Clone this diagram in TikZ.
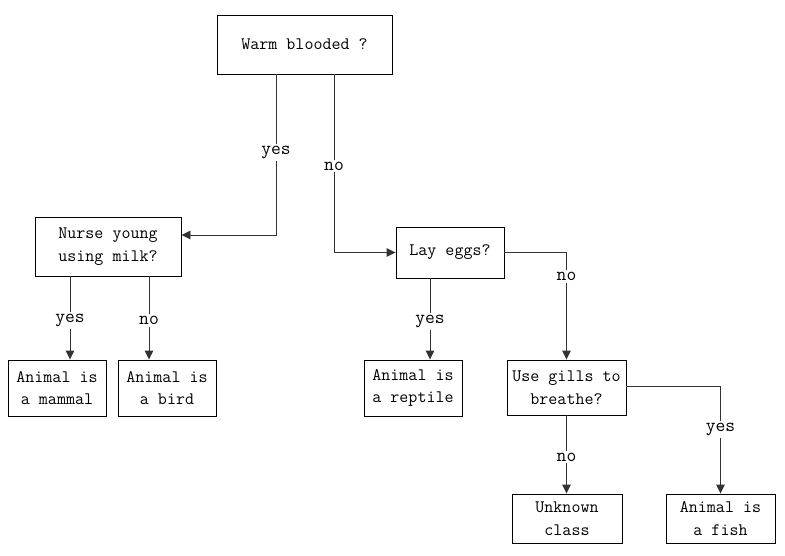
\documentclass[tikz,border=0pt]{standalone}
\usepackage{xcolor}
\usetikzlibrary{arrows.meta}

\begin{document}
\begin{tikzpicture}[x=1pt,y=-1pt,
    box/.style={draw, line width=0.9pt, align=center, inner sep=0pt,
        font=\ttfamily\fontsize{17.5}{22.5}\selectfont},
    arr/.style={draw=black!80, line width=0.9pt, -{Triangle[length=9pt,width=8.5pt]}},
    lbl/.style={fill=white, inner sep=2pt, yshift=-2.5pt, font=\ttfamily\fontsize{19}{20}\selectfont}]
    \useasboundingbox (0,0) rectangle (785,556);
    \node[box, minimum width=175pt, minimum height=59pt] (warm) at (304.5,44.5) {Warm blooded ?};
    \node[box, minimum width=146pt, minimum height=59pt] (nurse) at (108,246.5) {Nurse young\\using milk?};
    \node[box, minimum width=98pt, minimum height=56pt] (mammal) at (57,388) {Animal is\\a mammal};
    \node[box, minimum width=98pt, minimum height=56pt] (bird) at (167,388) {Animal is\\a bird};
    \node[box, minimum width=108pt, minimum height=51pt] (lay) at (450,252.5) {Lay eggs?};
    \node[box, minimum width=98pt, minimum height=56pt] (reptile) at (413,388) {Animal is\\a reptile};
    \node[box, minimum width=119pt, minimum height=55pt] (gills) at (566.5,387.5) {Use gills to\\breathe?};
    \node[box, minimum width=110pt, minimum height=49pt] (unknown) at (567,518.5) {Unknown\\class};
    \node[box, minimum width=109pt, minimum height=49pt] (fish) at (720.5,518.5) {Animal is\\a fish};

    \draw[arr] ([xshift=-28.5pt]warm.south) |- node[lbl, pos=0.235] {yes} ([yshift=11.5pt]nurse.east);
    \draw[arr] ([xshift=29.5pt]warm.south) |- node[lbl, pos=0.25] {no} (lay.west);
    \draw[arr] ([xshift=-38pt]nurse.south) -- node[lbl] {yes} ([xshift=-38pt]nurse.south |- mammal.north);
    \draw[arr] ([xshift=41pt]nurse.south) -- node[lbl] {no} ([xshift=41pt]nurse.south |- bird.north);
    \draw[arr] ([xshift=-20pt]lay.south) -- node[lbl] {yes} ([xshift=-20pt]lay.south |- reptile.north);
    \draw[arr] (lay.east) -| node[lbl, pos=0.6] {no} (gills.north);
    \draw[arr] (gills.south) -- node[lbl] {no} (gills.south |- unknown.north);
    \draw[arr] ([yshift=1.5pt]gills.east) -| node[lbl, pos=0.69] {yes} (fish.north);
\end{tikzpicture}
\end{document}
